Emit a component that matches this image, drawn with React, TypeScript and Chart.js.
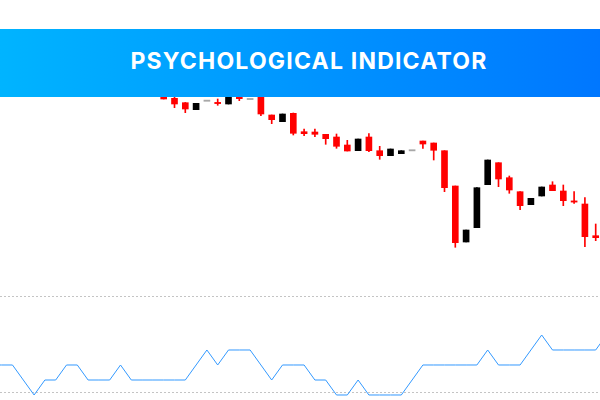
import React, { useEffect, useRef } from "react";
import { Chart, registerables } from "chart.js";

Chart.register(...registerables);

// ---- Data ----
const TITLE = "PSYCHOLOGICAL INDICATOR";
const CANDLE_START = 16; // bar index of first visible candle
const OPEN = [208, 201.7, 197.3, 190.3, 199.3, 197.2, 196, 206, 201, 207, 185, 178.3, 186.7, 168.3, 168, 165.7, 163, 155, 149.3, 163, 149.3, 144.3, 146.3, 149.7, 159, 157, 149.3, 114, 58, 72.3, 115.3, 137.3, 122.3, 108.3, 95.3, 104, 115, 109, 99, 96, 64.3];
const HIGH = [210, 203, 197.5, 196.7, 199.3, 201, 205, 207, 201, 208, 185, 186, 187, 171, 171, 165.7, 166, 159.7, 161, 166.3, 153.7, 151, 149.3, 149.7, 159, 157, 149.3, 114, 70, 112.3, 140, 137.3, 124, 108.3, 101.7, 113, 118.3, 115, 108.3, 102.3, 76];
const LOW = [201, 192.3, 187.3, 190.3, 199.3, 194.7, 196, 199.3, 201, 184.3, 176.3, 178.3, 165, 164.3, 163.3, 155.7, 151.7, 149, 149.3, 148.3, 140.7, 144.3, 146.3, 149.7, 151.7, 140, 108.3, 52.7, 58, 72.3, 115.3, 113.3, 106.7, 90.3, 95.3, 104, 109.3, 94.3, 96.7, 53.3, 59.3];
const CLOSE = [201, 196, 191, 196.7, 199.3, 196.8, 205, 201.3, 201, 186, 180.3, 186, 166.7, 166.3, 165.7, 161.3, 153.7, 149, 161, 149.3, 144.3, 151, 149.3, 149.7, 156, 149.7, 112.3, 57.3, 70, 112.3, 140, 121, 110, 94.3, 101.7, 113, 109.3, 99.3, 98, 63.3, 62.3];
const PSY = [41.67, 41.67, 41.67, 33.33, 25, 33.33, 33.33, 41.67, 41.67, 33.33, 33.33, 33.33, 41.67, 33.33, 33.33, 33.33, 33.33, 33.33, 33.33, 41.67, 50, 41.67, 50, 50, 50, 41.67, 33.33, 41.67, 41.67, 41.67, 33.33, 33.33, 25, 25, 33.33, 25, 25, 25, 25, 33.33, 41.67, 41.67, 41.67, 41.67, 41.67, 41.67, 50, 41.67, 41.67, 41.67, 50, 58.33, 50, 50, 50, 50, 50, 58.33];
const REF_LEVELS = [80, 26.67];

const X_MIN = 0.8426;
const X_MAX = 56.398;

const BULL = "#000000";
const BEAR = "#ff0000";
const DOJI = "#a8a8a8";

const refLinesPlugin = {
  id: "refLines",
  beforeDatasetsDraw(chart: any) {
    const { ctx, chartArea, scales } = chart;
    ctx.save();
    ctx.strokeStyle = "#c4c4c4";
    ctx.lineWidth = 1;
    ctx.setLineDash([2, 2]);
    REF_LEVELS.forEach((v) => {
      const y = Math.round(scales.y.getPixelForValue(v)) + 0.5;
      ctx.beginPath();
      ctx.moveTo(chartArea.left, y);
      ctx.lineTo(chartArea.right, y);
      ctx.stroke();
    });
    ctx.restore();
  },
};

export default function App() {
  const candleRef = useRef<HTMLCanvasElement>(null);
  const psyRef = useRef<HTMLCanvasElement>(null);

  useEffect(() => {
    const colors = OPEN.map((o, i) =>
      o === CLOSE[i] ? DOJI : CLOSE[i] > o ? BULL : BEAR
    );
    const bodies = OPEN.map((o, i) => {
      const c = CLOSE[i];
      let lo = Math.min(o, c);
      let hi = Math.max(o, c);
      if (hi - lo < 1.2) {
        const m = (hi + lo) / 2;
        lo = m - 0.6;
        hi = m + 0.6;
      }
      return { x: CANDLE_START + i, y: [lo, hi] };
    });
    const wicks = OPEN.map((o, i) => ({ x: CANDLE_START + i, y: [LOW[i], HIGH[i]] }));
    const wickColors = colors.map((c) => (c === DOJI ? "rgba(0,0,0,0)" : c));

    const xScale = { type: "linear" as const, min: X_MIN, max: X_MAX, display: false, offset: false };

    const c1 = new Chart(candleRef.current!, {
      type: "bar",
      data: {
        datasets: [
          {
            data: wicks as any,
            backgroundColor: wickColors,
            barThickness: 1,
            grouped: false,
            order: 2,
            borderWidth: 0,
          },
          {
            data: bodies as any,
            backgroundColor: colors,
            barThickness: 6,
            grouped: false,
            order: 1,
            borderWidth: 0,
          },
        ],
      },
      options: {
        responsive: false,
        animation: false,
        layout: { padding: 0 },
        scales: {
          x: xScale,
          y: { min: 10, max: 300, display: false },
        },
        plugins: { legend: { display: false }, tooltip: { enabled: false }, title: { display: false } },
      },
    });

    const c2 = new Chart(psyRef.current!, {
      type: "line",
      data: {
        datasets: [
          {
            data: PSY.map((v, i) => ({ x: i, y: v })),
            borderColor: "#3399ff",
            borderWidth: 1,
            pointRadius: 0,
            tension: 0,
            fill: false,
          },
        ],
      },
      options: {
        responsive: false,
        animation: false,
        layout: { padding: 0 },
        scales: {
          x: xScale,
          y: { min: 22.22, max: 83.33, display: false },
        },
        plugins: { legend: { display: false }, tooltip: { enabled: false } },
      },
      plugins: [refLinesPlugin],
    });

    return () => {
      c1.destroy();
      c2.destroy();
    };
  }, []);

  return (
    <div style={{ position: "fixed", left: 0, top: 0, width: 600, height: 400, background: "#fff", overflow: "hidden" }}>
      <canvas ref={candleRef} width={600} height={290} style={{ position: "absolute", left: 0, top: 0, width: 600, height: 290 }} />
      <canvas ref={psyRef} width={600} height={110} style={{ position: "absolute", left: 0, top: 290, width: 600, height: 110 }} />
      <div
        style={{
          position: "absolute",
          left: 0,
          top: 29,
          width: 600,
          height: 68,
          zIndex: 2,
          background: "linear-gradient(90deg, #00b4ff 0%, #0077ff 100%)",
          display: "flex",
          alignItems: "center",
          justifyContent: "center",
          paddingLeft: 18,
          paddingBottom: 4,
          boxSizing: "border-box",
          color: "#fff",
          fontFamily: "Inter, 'Open Sans', sans-serif",
          fontWeight: 700,
          fontSize: 23,
          letterSpacing: 1.2,
          whiteSpace: "nowrap",
        }}
      >
        {TITLE}
      </div>
    </div>
  );
}
